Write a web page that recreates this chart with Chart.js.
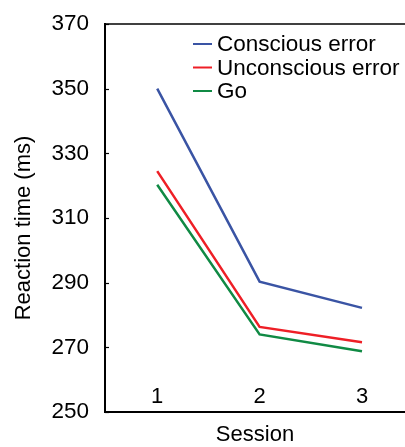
<!DOCTYPE html>
<html><head><meta charset="utf-8">
<script src="https://cdn.jsdelivr.net/npm/chart.js@4"></script>
<style>html,body{margin:0;padding:0;background:#fff;}</style>
</head><body>
<canvas id="c" width="405" height="447" style="width:405px;height:447px;display:block"></canvas>
<script>
const sessions = [1, 2, 3];
const sessionLabels = ['1', '2', '3'];
const consciousError = [350, 290.3, 282.2];
const unconsciousError = [324.5, 276.3, 271.6];
const goTrials = [320.3, 274.0, 268.8];
const yTicks = [250, 270, 290, 310, 330, 350, 370];
const seriesLabels = ['Conscious error', 'Unconscious error', 'Go'];
const seriesColors = ['#3a54a4', '#ee1f26', '#108a44'];
const seriesValues = [consciousError, unconsciousError, goTrials];
const xTitle = 'Session';
const yTitle = 'Reaction time (ms)';

const FONT = 'Liberation Sans, Arial, Helvetica, sans-serif';

const datasets = seriesLabels.map((lab, i) => ({
  label: lab,
  data: sessions.map((s, j) => ({x: s, y: seriesValues[i][j]})),
  borderColor: seriesColors[i],
  backgroundColor: seriesColors[i],
  borderWidth: 2.5,
  pointRadius: 0,
  tension: 0,
  fill: false
}));

const framePlugin = {
  id: 'frame',
  afterDraw(chart) {
    const {ctx, chartArea} = chart;
    const ys = chart.scales.y;
    const xs = chart.scales.x;
    ctx.save();
    ctx.strokeStyle = '#000';
    ctx.lineWidth = 1.5;
    ctx.beginPath();
    ctx.moveTo(chartArea.left, chartArea.top);
    ctx.lineTo(chartArea.right, chartArea.top);
    ctx.stroke();
    ctx.lineWidth = 1.2;
    yTicks.forEach(v => {
      const py = Math.round(ys.getPixelForValue(v)) + 0.5;
      ctx.beginPath();
      ctx.moveTo(chartArea.left, py);
      ctx.lineTo(chartArea.left + 4, py);
      ctx.stroke();
    });
    // x tick labels, drawn inside the plot above the axis
    ctx.fillStyle = '#000';
    ctx.font = '22px ' + FONT;
    ctx.textAlign = 'center';
    ctx.textBaseline = 'middle';
    sessions.forEach((s, i) => {
      ctx.fillText(sessionLabels[i], xs.getPixelForValue(s), chartArea.bottom - 15);
    });
    // y title
    ctx.save();
    ctx.translate(24, 228);
    ctx.rotate(-Math.PI / 2);
    ctx.fillText(yTitle, 0, 0);
    ctx.restore();
    // legend
    ctx.font = '22.5px ' + FONT;
    ctx.textAlign = 'left';
    const rowY = [44, 67.5, 91];
    seriesLabels.forEach((lab, i) => {
      ctx.strokeStyle = seriesColors[i];
      ctx.lineWidth = 2;
      ctx.beginPath();
      ctx.moveTo(193, rowY[i]);
      ctx.lineTo(212, rowY[i]);
      ctx.stroke();
      ctx.fillStyle = '#000';
      ctx.fillText(lab, 217, rowY[i] + 1);
    });
    ctx.restore();
  }
};

new Chart(document.getElementById('c'), {
  type: 'line',
  data: {datasets},
  options: {
    responsive: false,
    animation: false,
    layout: {padding: {top: 24, left: 0, right: 0, bottom: 0}},
    plugins: {legend: {display: false}, tooltip: {enabled: false}},
    scales: {
      x: {
        type: 'linear',
        min: 0.49,
        max: 3.42,
        afterBuildTicks: s => { s.ticks = sessions.map(v => ({value: v})); },
        afterFit: s => { s.height = 35; s.paddingLeft = 0; s.paddingRight = 0; },
        grid: {display: false, drawTicks: false},
        border: {display: true, color: '#000', width: 2},
        ticks: {display: false},
        title: {display: true, text: xTitle, color: '#000', font: {family: FONT, size: 22, lineHeight: 1.1}, padding: 0}
      },
      y: {
        min: 250,
        max: 370,
        afterBuildTicks: s => { s.ticks = yTicks.map(v => ({value: v})); },
        afterFit: s => { s.width = 105; s.paddingTop = 0; s.paddingBottom = 0; },
        grid: {display: false, drawTicks: false},
        border: {display: true, color: '#000', width: 2},
        ticks: {padding: 16, color: '#000', font: {family: FONT, size: 22.5}},
        title: {display: false}
      }
    }
  },
  plugins: [framePlugin]
});
</script>
</body></html>
